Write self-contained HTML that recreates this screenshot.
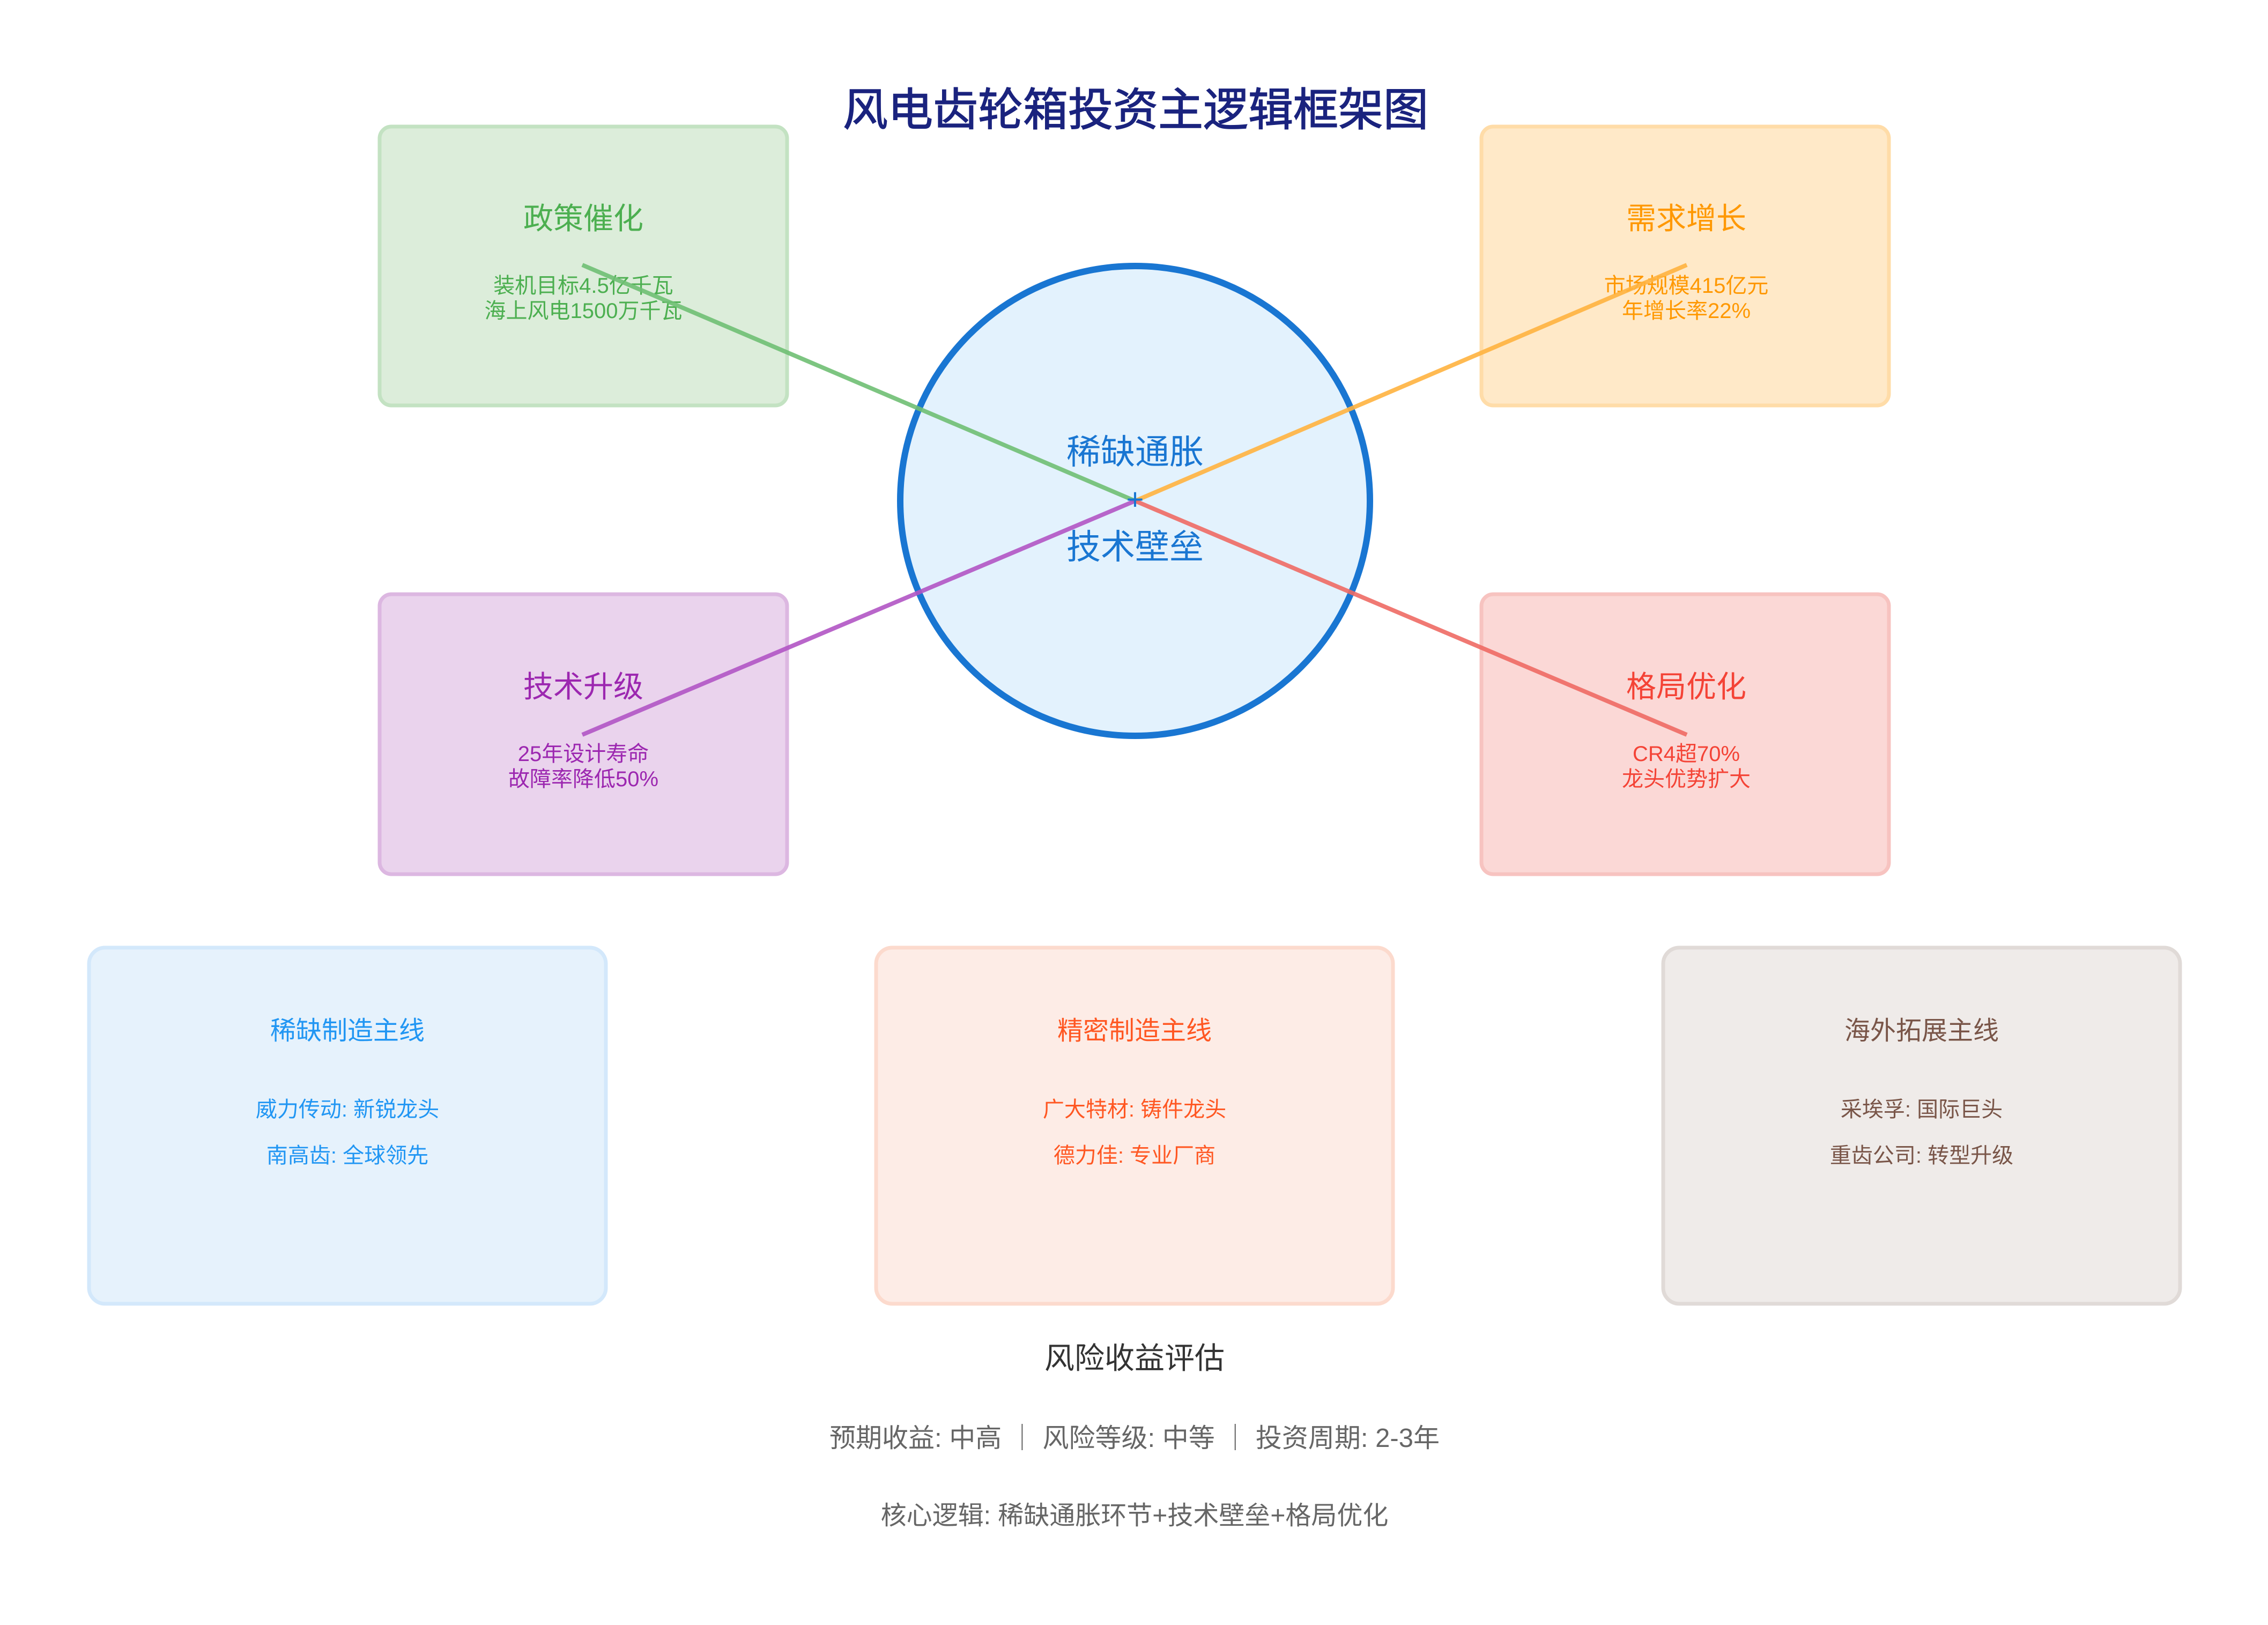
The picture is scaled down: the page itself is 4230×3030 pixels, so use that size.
<!DOCTYPE html>
<html><head><meta charset="utf-8"><style>
html,body{margin:0;padding:0;background:#fff;}
svg{display:block;}
text{font-family:"Liberation Sans","Noto Sans CJK SC",sans-serif;text-anchor:middle;}
</style></head><body>
<svg width="4230" height="3030" viewBox="0 0 4230 3030" xmlns="http://www.w3.org/2000/svg">
<rect width="4230" height="3030" fill="#fff"/>
<text x="2118" y="234" font-size="84" fill="#1a237e" stroke="#1a237e" stroke-width="1.5">风电齿轮箱投资主逻辑框架图</text>

<!-- top boxes -->
<rect x="708" y="236" width="760" height="520" rx="22" fill="#dcedda" stroke="#c3e2c2" stroke-width="7"/>
<text x="1088" y="427" font-size="56" fill="#4caf50">政策催化</text>
<text x="1088" y="546" font-size="40" fill="#4caf50">装机目标4.5亿千瓦</text>
<text x="1088" y="593" font-size="40" fill="#4caf50">海上风电1500万千瓦</text>

<rect x="2763" y="236" width="760" height="520" rx="22" fill="#ffe9c8" stroke="#ffdca8" stroke-width="7"/>
<text x="3145" y="427" font-size="56" fill="#ff9800">需求增长</text>
<text x="3145" y="546" font-size="40" fill="#ff9800">市场规模415亿元</text>
<text x="3145" y="593" font-size="40" fill="#ff9800">年增长率22%</text>

<rect x="708" y="1108" width="760" height="522" rx="22" fill="#ead3ed" stroke="#dcb7e1" stroke-width="7"/>
<text x="1088" y="1300" font-size="56" fill="#9c27b0">技术升级</text>
<text x="1088" y="1419" font-size="40" fill="#9c27b0">25年设计寿命</text>
<text x="1088" y="1466" font-size="40" fill="#9c27b0">故障率降低50%</text>

<rect x="2763" y="1108" width="760" height="522" rx="22" fill="#fbd8d6" stroke="#f7c3c0" stroke-width="7"/>
<text x="3145" y="1300" font-size="56" fill="#f44336">格局优化</text>
<text x="3145" y="1419" font-size="40" fill="#f44336">CR4超70%</text>
<text x="3145" y="1466" font-size="40" fill="#f44336">龙头优势扩大</text>

<!-- circle -->
<circle cx="2117" cy="934" r="438" fill="#e3f2fd" stroke="#1976d2" stroke-width="12"/>

<!-- lines -->
<g stroke-width="8" stroke-opacity="0.9">
<line x1="1086" y1="494" x2="2117" y2="934" stroke="#6fbf73"/>
<line x1="3146" y1="494" x2="2117" y2="934" stroke="#ffb23f"/>
<line x1="1086" y1="1370" x2="2117" y2="934" stroke="#b155c4"/>
<line x1="3146" y1="1370" x2="2117" y2="934" stroke="#ee6a64"/>
</g>

<text x="2117" y="865" font-size="64" fill="#1976d2">稀缺通胀</text>
<text x="2117" y="950" font-size="56" fill="#1976d2">+</text>
<text x="2117" y="1042" font-size="64" fill="#1976d2">技术壁垒</text>

<!-- bottom boxes -->
<rect x="166" y="1767" width="964" height="664" rx="30" fill="#e6f2fc" stroke="#d3e8fb" stroke-width="7"/>
<text x="648" y="1938" font-size="48" fill="#2196f3">稀缺制造主线</text>
<text x="648" y="2082" font-size="40" fill="#2196f3">威力传动: 新锐龙头</text>
<text x="648" y="2168" font-size="40" fill="#2196f3">南高齿: 全球领先</text>

<rect x="1634" y="1767" width="964" height="664" rx="30" fill="#fdece6" stroke="#fcdacd" stroke-width="7"/>
<text x="2116" y="1938" font-size="48" fill="#ff5722">精密制造主线</text>
<text x="2116" y="2082" font-size="40" fill="#ff5722">广大特材: 铸件龙头</text>
<text x="2116" y="2168" font-size="40" fill="#ff5722">德力佳: 专业厂商</text>

<rect x="3102" y="1767" width="964" height="664" rx="30" fill="#efebe9" stroke="#e0dad7" stroke-width="7"/>
<text x="3584" y="1938" font-size="48" fill="#795548">海外拓展主线</text>
<text x="3584" y="2082" font-size="40" fill="#795548">采埃孚: 国际巨头</text>
<text x="3584" y="2168" font-size="40" fill="#795548">重齿公司: 转型升级</text>

<!-- bottom text -->
<text x="2116" y="2552" font-size="56" fill="#333">风险收益评估</text>
<text x="2116" y="2698" font-size="49" fill="#666">预期收益: 中高 ｜ 风险等级: 中等 ｜ 投资周期: 2-3年</text>
<text x="2116" y="2842" font-size="48" fill="#666">核心逻辑: 稀缺通胀环节+技术壁垒+格局优化</text>
</svg>
</body></html>
